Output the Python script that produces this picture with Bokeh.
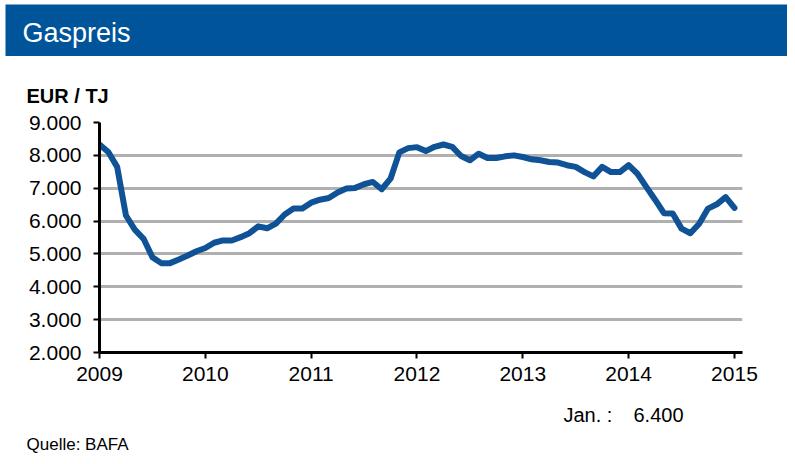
from bokeh.core.properties import value
from bokeh.layouts import column
from bokeh.models import ColumnDataSource, FixedTicker, Range1d
from bokeh.plotting import figure
from bokeh.embed import file_html
from bokeh.resources import INLINE

# monthly gas price (EUR / TJ), Jan 2009 .. Jan 2015
start_year = 2009
prices = [
    8330, 8100, 7650, 6170, 5740, 5460, 4900, 4720, 4720, 4830, 4950, 5080,
    5180, 5340, 5410, 5410, 5510, 5630, 5840, 5780, 5920, 6200, 6380, 6380,
    6560, 6650, 6700, 6870, 6990, 7010, 7120, 7190, 6970, 7290, 8090, 8220,
    8250, 8130, 8260, 8330, 8260, 7980, 7850, 8050, 7920, 7920, 7970, 8000,
    7950, 7880, 7850, 7800, 7780, 7700, 7650, 7490, 7360, 7650, 7490, 7490,
    7700, 7440, 7040, 6650, 6240, 6230, 5770, 5630, 5920, 6380, 6510, 6730,
    6400,
]
year_ticks = [2009, 2010, 2011, 2012, 2013, 2014, 2015]
y_ticks = [2000, 3000, 4000, 5000, 6000, 7000, 8000, 9000]
y_tick_labels = ["2.000", "3.000", "4.000", "5.000", "6.000", "7.000", "8.000", "9.000"]

title_text = "Gaspreis"
unit_text = "EUR / TJ"
last_label = "Jan. :"
last_value = "6.400"
source_text = "Quelle:  BAFA"

FONT = "Liberation Sans"
BLUE_BAR = "#00559A"
LINE_BLUE = "#0F5296"
W = 787


def strip(height, top, fill="white", left=0, pad_top=0):
    # blank figure whose data coords are page pixels (y pointing down)
    f = figure(width=W, height=height, output_backend="svg", toolbar_location=None,
               x_axis_type=None, y_axis_type=None, title=None,
               x_range=Range1d(left, W), y_range=Range1d(top + height, top + pad_top),
               min_border_left=left, min_border_top=pad_top,
               min_border_right=0, min_border_bottom=0)
    f.frame_align = False
    f.outline_line_color = None
    f.background_fill_color = fill
    f.border_fill_color = "white"
    return f


# header bar
head = strip(56, 0, fill=BLUE_BAR, left=5, pad_top=4)
head.text(x=[22], y=[32], text=[title_text], text_font=value(FONT),
          text_font_size="27px", text_color="white", text_baseline="alphabetic")

# unit line
unit = strip(56, 56)
unit.text(x=[26], y=[95], text=[unit_text], text_font=value(FONT),
          text_font_size="20px", text_font_style="bold", text_color="black",
          text_baseline="alphabetic")

# main chart
x = [start_year + i / 12 for i in range(len(prices))]
source = ColumnDataSource(data=dict(x=x, price=prices))

p = figure(width=W, height=284, output_backend="svg", toolbar_location=None,
           x_range=Range1d(2009, 2015.076), y_range=Range1d(2000, 9000),
           min_border_left=99, min_border_right=45, min_border_top=10,
           min_border_bottom=44)
p.frame_align = False
p.outline_line_color = None
p.background_fill_color = "white"
p.border_fill_color = "white"

p.line("x", "price", source=source, line_width=6, line_color=LINE_BLUE,
       line_join="round", line_cap="round")

for ax in (p.xaxis[0], p.yaxis[0]):
    ax.axis_line_color = "black"
    ax.axis_line_width = 3
    ax.major_tick_line_color = "black"
    ax.major_tick_line_width = 2
    ax.major_tick_out = 6
    ax.major_tick_in = 0
    ax.minor_tick_line_color = None
    ax.major_label_text_font = FONT
    ax.major_label_text_font_size = "21px"
    ax.major_label_text_color = "black"

p.xaxis.ticker = FixedTicker(ticks=year_ticks)
p.xaxis.major_label_overrides = {y: str(y) for y in year_ticks}
p.xaxis.major_label_standoff = 8
p.yaxis.ticker = FixedTicker(ticks=y_ticks)
p.yaxis.major_label_overrides = dict(zip(y_ticks, y_tick_labels))
p.yaxis.major_label_standoff = 12

p.xgrid.grid_line_color = None
p.ygrid.grid_line_color = "#B0B0B0"
p.ygrid.grid_line_width = 3
p.ygrid.ticker = FixedTicker(ticks=y_ticks[1:])

# footer: last value and source
foot = strip(60, 396)
foot.text(x=[563, 633], y=[414, 414], text=[last_label, last_value],
          text_font=value(FONT), text_font_size="20px", text_color="black",
          text_baseline="alphabetic")
foot.text(x=[26], y=[444], text=[source_text], text_font=value(FONT),
          text_font_size="17px", text_color="black", text_baseline="alphabetic")

layout = column(head, unit, p, foot, spacing=0)
open("out.html", "w").write(file_html(layout, INLINE))
